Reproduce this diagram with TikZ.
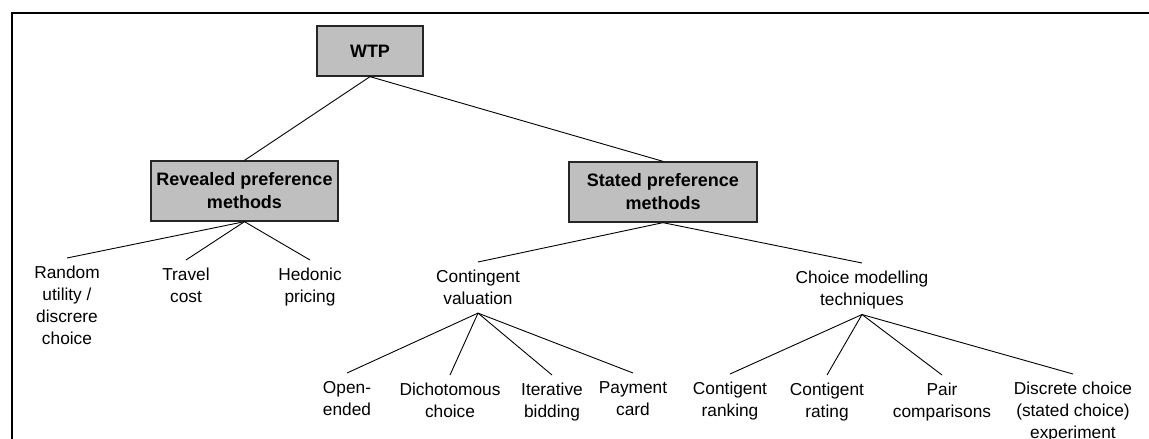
\documentclass[tikz,border=0pt]{standalone}
\usepackage{fontspec}
\setmainfont{Liberation Sans}
\begin{document}
\begin{tikzpicture}[x=1pt,y=-1pt,
  catbox/.style={draw=black!85,line width=1.3pt,fill=black!25,
    font=\bfseries\fontsize{18}{23}\selectfont,align=center,inner sep=0pt,text=black},
  leaf/.style={anchor=north,align=center,inner xsep=0pt,inner ysep=8pt,
    font=\fontsize{17.3}{22}\selectfont,text=black},
  link/.style={line width=0.9pt,black}]
\useasboundingbox (0,0) rectangle (1149,439);
% open frame
\draw[line width=1.3pt] (1149,13) -- (12,13) -- (12,439);

% category boxes
\node[catbox,minimum width=106pt,minimum height=50pt] (wtp) at (370,51) {WTP};
\node[catbox,minimum width=187pt,minimum height=60pt] (rp) at (244.5,191) {Revealed preference\\methods};
\node[catbox,minimum width=188pt,minimum height=60pt] (sp) at (663,192) {Stated preference\\methods};

% revealed preference methods
\node[leaf] (rand) at (67,258) {Random\\utility /\\discrere\\choice};
\node[leaf] (trav) at (186,260) {Travel\\cost};
\node[leaf] (hed) at (310,260) {Hedonic\\pricing};

% stated preference methods
\node[leaf] (cv) at (478,262) {Contingent\\valuation};
\node[leaf] (cm) at (862,263) {Choice modelling\\techniques};

\node[leaf] (open) at (347,373) {Open-\\ended};
\node[leaf] (dich) at (450,375) {Dichotomous\\choice};
\node[leaf] (iter) at (552,375) {Iterative\\bidding};
\node[leaf] (pay) at (633,373) {Payment\\card};

\node[leaf] (crank) at (730,374) {Contigent\\ranking};
\node[leaf] (crate) at (827,375) {Contigent\\rating};
\node[leaf] (pair) at (942,375) {Pair\\comparisons};
\node[leaf] (disc) at (1073,374) {Discrete choice\\(stated choice)\\experiment};

% connectors
\draw[link] (wtp.south) -- (rp.north);
\draw[link] (wtp.south) -- (sp.north);
\foreach \c in {rand,trav,hed} \draw[link] (rp.south) -- (\c.north);
\foreach \c in {cv,cm} \draw[link] (sp.south) -- (\c.north);
\foreach \c in {open,dich,iter,pay} \draw[link] (cv.south) -- (\c.north);
\foreach \c in {crank,crate,pair,disc} \draw[link] ([yshift=3pt]cm.south) -- (\c.north);
\end{tikzpicture}
\end{document}
